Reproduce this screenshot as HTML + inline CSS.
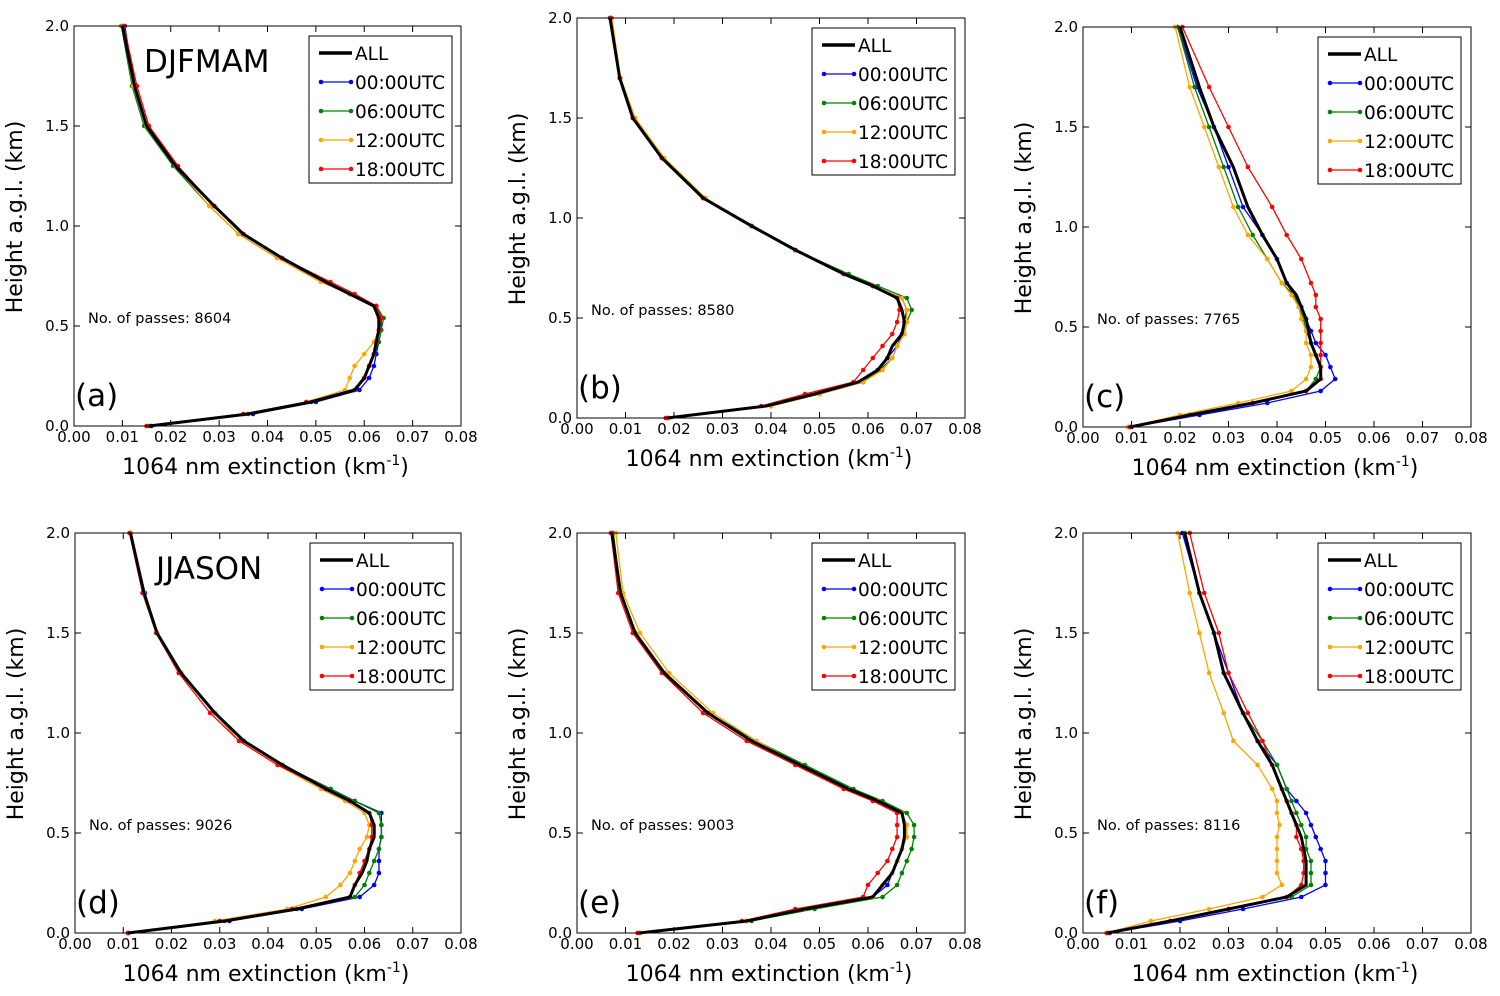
<!DOCTYPE html>
<html><head><meta charset="utf-8"><style>
html,body{margin:0;padding:0;background:#fff;}
svg{display:block;font-family:"DejaVu Sans","Liberation Sans",sans-serif;}
</style></head><body>
<svg id="chart" width="1500" height="996" viewBox="0 0 1500 996" xmlns="http://www.w3.org/2000/svg"></svg>
<script>
const heights = [0,0.06,0.12,0.18,0.24,0.3,0.36,0.42,0.48,0.54,0.6,0.66,0.72,0.84,0.96,1.1,1.3,1.5,1.7,2.0];
const xTicks = ["0.00","0.01","0.02","0.03","0.04","0.05","0.06","0.07","0.08"];
const yTicks = ["0.0","0.5","1.0","1.5","2.0"];
const seriesNames = ["ALL","00:00UTC","06:00UTC","12:00UTC","18:00UTC"];
const panelLetters = ["(a)","(b)","(c)","(d)","(e)","(f)"];
const panelPasses = ["8604","8580","7765","9026","9003","8116"];

const a_all=[0.0155,0.036,0.049,0.058,0.060,0.061,0.062,0.0625,0.063,0.063,0.062,0.057,0.052,0.043,0.035,0.029,0.021,0.015,0.0125,0.010];
const a_00=[0.016,0.037,0.05,0.059,0.061,0.062,0.0625,0.063,0.0635,0.0635,0.0625,0.057,0.052,0.043,0.035,0.029,0.021,0.015,0.0125,0.0105];
const a_06=[0.0155,0.036,0.049,0.058,0.060,0.061,0.062,0.063,0.0635,0.064,0.0625,0.057,0.052,0.042,0.034,0.028,0.0205,0.0145,0.012,0.0098];
const a_12=[0.015,0.035,0.048,0.056,0.057,0.058,0.060,0.062,0.063,0.063,0.062,0.057,0.051,0.042,0.034,0.028,0.021,0.015,0.0122,0.0100];
const a_18=[0.015,0.035,0.048,0.058,0.060,0.061,0.062,0.0625,0.063,0.0635,0.0625,0.058,0.053,0.043,0.035,0.029,0.0215,0.0155,0.013,0.0103];

const b_all=[0.0186,0.039,0.049,0.058,0.062,0.064,0.065,0.067,0.0675,0.067,0.066,0.061,0.055,0.045,0.036,0.026,0.0175,0.0115,0.0088,0.0068];
const b_00=[0.0186,0.040,0.050,0.059,0.062,0.064,0.066,0.067,0.0675,0.068,0.067,0.061,0.055,0.045,0.036,0.026,0.0175,0.0115,0.0088,0.0068];
const b_06=[0.019,0.040,0.050,0.059,0.0625,0.065,0.066,0.0675,0.068,0.069,0.068,0.062,0.056,0.045,0.036,0.026,0.0175,0.0115,0.0088,0.0069];
const b_12=[0.019,0.040,0.050,0.059,0.063,0.065,0.066,0.0675,0.068,0.068,0.067,0.061,0.055,0.045,0.036,0.0265,0.018,0.012,0.009,0.0072];
const b_18=[0.0183,0.038,0.047,0.057,0.059,0.061,0.063,0.065,0.066,0.0665,0.066,0.061,0.055,0.045,0.036,0.026,0.0175,0.0115,0.0088,0.0070];

const c_all=[0.0097,0.022,0.035,0.046,0.049,0.049,0.048,0.047,0.0465,0.046,0.045,0.044,0.042,0.040,0.037,0.034,0.031,0.027,0.024,0.020];
const c_00=[0.010,0.024,0.038,0.049,0.052,0.051,0.050,0.048,0.047,0.046,0.045,0.0435,0.042,0.040,0.037,0.033,0.030,0.027,0.0235,0.0195];
const c_06=[0.0097,0.022,0.035,0.046,0.048,0.049,0.048,0.047,0.046,0.0455,0.0445,0.0435,0.041,0.038,0.035,0.032,0.029,0.026,0.023,0.0195];
const c_12=[0.0093,0.020,0.032,0.043,0.046,0.047,0.047,0.046,0.046,0.045,0.0445,0.043,0.041,0.038,0.034,0.031,0.028,0.025,0.022,0.019];
const c_18=[0.0097,0.022,0.035,0.046,0.049,0.049,0.049,0.049,0.049,0.049,0.048,0.048,0.047,0.045,0.042,0.039,0.034,0.030,0.026,0.0205];

const d_all=[0.011,0.031,0.046,0.057,0.058,0.0595,0.0605,0.061,0.062,0.062,0.061,0.057,0.052,0.043,0.035,0.029,0.022,0.017,0.0143,0.0115];
const d_00=[0.011,0.032,0.047,0.059,0.062,0.063,0.063,0.063,0.0635,0.0635,0.0635,0.058,0.053,0.043,0.035,0.029,0.022,0.017,0.0145,0.0115];
const d_06=[0.011,0.031,0.046,0.058,0.060,0.061,0.062,0.063,0.0635,0.0635,0.063,0.058,0.053,0.043,0.035,0.029,0.022,0.017,0.0143,0.0115];
const d_12=[0.011,0.029,0.044,0.052,0.055,0.057,0.058,0.059,0.0605,0.061,0.060,0.056,0.051,0.042,0.034,0.029,0.022,0.017,0.0143,0.0115];
const d_18=[0.011,0.030,0.045,0.057,0.058,0.059,0.060,0.061,0.0615,0.0615,0.061,0.057,0.052,0.042,0.034,0.028,0.0215,0.0168,0.014,0.0113];

const e_all=[0.0128,0.035,0.047,0.061,0.063,0.065,0.066,0.067,0.0675,0.0675,0.067,0.062,0.056,0.046,0.036,0.027,0.018,0.012,0.009,0.0072];
const e_00=[0.013,0.035,0.047,0.061,0.064,0.065,0.066,0.067,0.068,0.068,0.067,0.062,0.056,0.046,0.036,0.027,0.018,0.012,0.009,0.0072];
const e_06=[0.013,0.036,0.049,0.063,0.066,0.067,0.068,0.069,0.0695,0.0695,0.068,0.063,0.057,0.047,0.037,0.027,0.018,0.012,0.009,0.0075];
const e_12=[0.013,0.035,0.047,0.061,0.063,0.065,0.066,0.067,0.068,0.068,0.067,0.062,0.056,0.046,0.037,0.028,0.019,0.013,0.0095,0.0080];
const e_18=[0.0125,0.034,0.045,0.059,0.060,0.062,0.064,0.065,0.066,0.066,0.066,0.061,0.055,0.045,0.035,0.026,0.0175,0.0115,0.0085,0.0070];

const f_all=[0.005,0.018,0.030,0.042,0.046,0.046,0.046,0.0455,0.045,0.044,0.043,0.042,0.041,0.039,0.036,0.033,0.029,0.027,0.024,0.021];
const f_00=[0.0055,0.020,0.033,0.045,0.050,0.050,0.050,0.049,0.048,0.047,0.046,0.044,0.042,0.040,0.036,0.033,0.030,0.027,0.024,0.0205];
const f_06=[0.005,0.018,0.030,0.043,0.047,0.047,0.047,0.046,0.046,0.045,0.044,0.043,0.042,0.040,0.037,0.033,0.029,0.027,0.024,0.021];
const f_12=[0.0048,0.014,0.026,0.037,0.041,0.040,0.040,0.040,0.040,0.0405,0.040,0.040,0.039,0.036,0.031,0.029,0.026,0.024,0.022,0.0195];
const f_18=[0.005,0.018,0.030,0.042,0.045,0.0455,0.0455,0.045,0.044,0.044,0.043,0.042,0.041,0.039,0.037,0.034,0.030,0.028,0.025,0.022];

const panelSeries=[[a_all,a_00,a_06,a_12,a_18],[b_all,b_00,b_06,b_12,b_18],[c_all,c_00,c_06,c_12,c_18],
 [d_all,d_00,d_06,d_12,d_18],[e_all,e_00,e_06,e_12,e_18],[f_all,f_00,f_06,f_12,f_18]];
const panelTitles=["DJFMAM","","","JJASON","",""];

const NS="http://www.w3.org/2000/svg";
const svg=document.getElementById('chart');
const colors=["#000000","#0000ff","#008000","#ffa500","#ff0000"];
const boxes=[[74,26,461,426],[577,18,965,418],[1083,27,1471,427],[75,533,461,933],[577,533,965,933],[1083,533,1471,933]];
function mk(tag,attrs,parent){const e=document.createElementNS(NS,tag);for(const k in attrs)e.setAttribute(k,attrs[k]);(parent||svg).appendChild(e);return e;}

boxes.forEach((b,pi)=>{
  const [L,T,R,B]=b;
  const g=mk('g',{});
  
  
  const xs=v=>L+(v/0.08)*(R-L);
  const ys=h=>B-(h/2.0)*(B-T);
  xTicks.forEach((t,i)=>{
    const x=xs(parseFloat(t));
    mk('line',{x1:x,x2:x,y1:B,y2:B-6,stroke:'#000','stroke-width':1},g);
    mk('line',{x1:x,x2:x,y1:T,y2:T+6,stroke:'#000','stroke-width':1},g);
    const tx=mk('text',{x:x,y:B+16,'font-size':15,'text-anchor':'middle'},g);
    tx.textContent=t;
    
    
  });
  yTicks.forEach(t=>{
    const y=ys(parseFloat(t));
    mk('line',{x1:L,x2:L+6,y1:y,y2:y,stroke:'#000'},g);
    mk('line',{x1:R,x2:R-6,y1:y,y2:y,stroke:'#000'},g);
    const tx=mk('text',{x:L-5,y:y+5,'font-size':15,'text-anchor':'end'},g);
    tx.textContent=t;
    
    
  });
  const order=[1,2,3,4,0];
  order.forEach(si=>{
    const vals=panelSeries[pi][si];
    const pts=vals.map((v,i)=>xs(v).toFixed(1)+','+ys(heights[i]).toFixed(1)).join(' ');
    const pl=mk('polyline',{points:pts,fill:'none',stroke:colors[si],'stroke-width':si===0?3:1.3},g);
    
    
    if(si>0){vals.forEach((v,i)=>{
      const c=mk('circle',{cx:xs(v),cy:ys(heights[i]),r:2.3,fill:colors[si]},g);
      
      
    });}
  });
  const fr=mk('rect',{x:L,y:T,width:R-L,height:B-T,fill:'none',stroke:'#000','stroke-width':1},g);
  
  
  const xl=mk('text',{x:(L+R)/2-2,y:B+48,'font-size':22,'text-anchor':'middle'},g);
  xl.innerHTML='1064 nm extinction  (km<tspan dy="-9" font-size="14">-1</tspan><tspan dy="9">)</tspan>';
  
  
  const yx=L-52, yy=(T+B)/2-9;
  const yl=mk('text',{x:yx,y:yy,'font-size':22,'text-anchor':'middle',transform:'rotate(-90 '+yx+' '+yy+')'},g);
  yl.textContent='Height a.g.l. (km)';
  
  
  const ps=mk('text',{x:L+14,y:ys(0.5)-3,'font-size':14.5},g);
  ps.textContent='No. of passes: '+panelPasses[pi];
  
  
  const lt=mk('text',{x:L+1,y:B-20,'font-size':31},g);
  lt.textContent=panelLetters[pi];
  
  
  if(panelTitles[pi]){
    const tt=mk('text',{x:L+(pi===0?70:81),y:T+46,'font-size':31},g);
    tt.textContent=panelTitles[pi];
    
    
  }
  const lg=mk('g',{},g);
  
  
  const lx=L+235, ly=T+10;
  mk('rect',{x:lx,y:ly,width:143,height:147,fill:'#fff',stroke:'#000','stroke-width':1},lg);
  seriesNames.forEach((n,i)=>{
    const ry=ly+17+i*29;
    const e=mk('g',{},lg);
    
    
    mk('line',{x1:lx+10,x2:lx+43,y1:ry,y2:ry,stroke:colors[i],'stroke-width':i===0?3.5:1.3},e);
    if(i>0){mk('circle',{cx:lx+12,cy:ry,r:2.3,fill:colors[i]},e);mk('circle',{cx:lx+42,cy:ry,r:2.3,fill:colors[i]},e);}
    const t=mk('text',{x:lx+46,y:ry+7,'font-size':18.5},e);
    t.textContent=n;
  });
});
</script>
</body></html>
